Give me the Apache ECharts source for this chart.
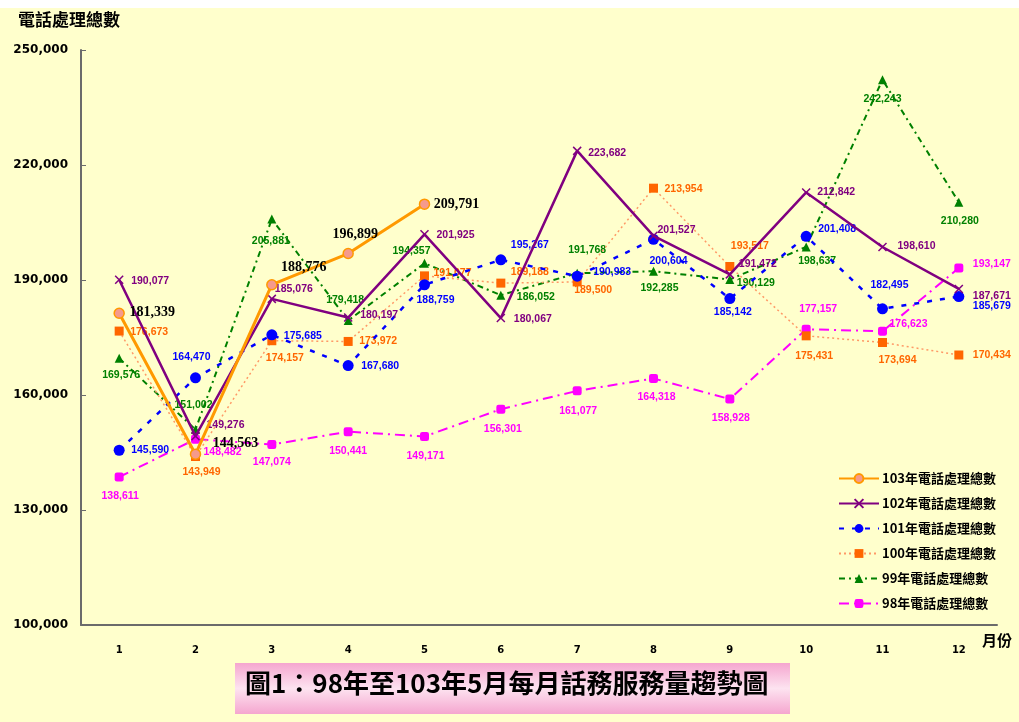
<!DOCTYPE html>
<html>
<head>
<meta charset="utf-8">
<script src="https://cdn.jsdelivr.net/npm/echarts@6/dist/echarts.min.js"></script>
<style>
html,body{margin:0;padding:0;background:#fff;}
#main{width:1019px;height:722px;}
</style>
</head>
<body>
<div id="main"></div>
<script>
// ---- data ----
const months = ['1','2','3','4','5','6','7','8','9','10','11','12'];
const seriesNames = ['103年電話處理總數','102年電話處理總數','101年電話處理總數','100年電話處理總數','99年電話處理總數','98年電話處理總數'];
const y103 = [181339,144563,188776,196899,209791];
const y102 = [190077,149276,185076,180197,201925,180067,223682,201527,191472,212842,198610,187671];
const y101 = [145590,164470,175685,167680,188759,195267,190983,200604,185142,201408,182495,185679];
const y100 = [176673,143949,174157,173972,191077,189188,189500,213954,193517,175431,173694,170434];
const y99  = [169576,151002,205881,179418,194357,186052,191768,192285,190129,198637,242243,210280];
const y98  = [138611,148482,147074,150441,149171,156301,161077,164318,158928,177157,176623,193147];
const yTicksMin = 100000, yTicksMax = 250000, yTickStep = 30000;
const chartTitle = '圖1：98年至103年5月每月話務服務量趨勢圖';
const yName = '電話處理總數';
const xName = '月份';

// ---- label placement (pixel offsets of label centre from point) ----
const off103 = [[33,-1],[40,-11],[32,-17],[7,-19],[32,0]];
const off102 = [[31,1],[30,-11],[22,-10],[31,-2],[31,1],[32,1],[30,2],[23,-6],[28,-10],[30,0],[34,-1],[33,7]];
const off101 = [[31,0],[-4,-21],[31,1],[32,1],[11,15],[29,-15],[35,-4],[15,22],[3,13],[31,-7],[7,-24],[33,10]];
const off100 = [[30,1],[6,16],[13,17],[30,0],[28,-3],[29,-11],[16,8],[30,1],[20,-20],[8,20],[15,18],[33,0]];
const off99  = [[2,17],[-2,-24],[-1,22],[-3,-20],[-13,-12],[35,2],[10,-23],[6,17],[26,4],[11,14],[0,19],[1,19]];
const off98  = [[1,19],[27,13],[0,18],[0,19],[1,20],[2,20],[1,20],[3,19],[1,19],[12,-20],[26,-7],[33,-4]];

const fmt = v => Number(v).toLocaleString('en-US');
const smallFont = "'Liberation Sans Narrow','Liberation Sans',sans-serif";

function mkData(vals, offs, color, big) {
  return vals.map((v, i) => ({
    value: v,
    label: {
      show: true,
      position: 'inside',
      offset: offs[i],
      align: 'center',
      verticalAlign: 'middle',
      color: color,
      fontFamily: big ? "'Liberation Serif',serif" : smallFont,
      fontWeight: 'bold',
      fontSize: big ? 14 : 10.5,
      textBorderWidth: 0,
      formatter: p => fmt(p.value)
    }
  }));
}

const chart = echarts.init(document.getElementById('main'), null, {renderer: 'canvas'});
const option = {
  animation: false,
  backgroundColor: '#FFFFCC',
  grid: {left: 81, right: 22, top: 50, bottom: 97, containLabel: false},
  legend: {
    orient: 'vertical',
    left: 833,
    top: 467,
    itemWidth: 40,
    itemHeight: 11,
    itemGap: 12,
    data: seriesNames,
    textStyle: {color: '#000', fontSize: 13, fontWeight: 'bold', fontFamily: "'Noto Sans CJK TC',sans-serif", padding: [0,0,0,-2]}
  },
  xAxis: {
    type: 'category',
    data: months,
    axisLine: {lineStyle: {color: '#6b6b6b', width: 2}},
    axisTick: {inside: true, length: 4, lineStyle: {color: '#6b6b6b', width: 1}},
    axisLabel: {color: '#000', fontWeight: 'bold', fontSize: 10, fontFamily: "'DejaVu Sans',sans-serif", margin: 20},
    splitLine: {show: false}
  },
  yAxis: {
    type: 'value',
    min: yTicksMin,
    max: yTicksMax,
    interval: yTickStep,
    axisLine: {show: true, lineStyle: {color: '#6b6b6b', width: 2}},
    axisTick: {show: true, inside: true, length: 5, lineStyle: {color: '#6b6b6b'}},
    axisLabel: {color: '#000', fontWeight: 'bold', fontSize: 12, fontFamily: "'DejaVu Sans',sans-serif", margin: 13, formatter: v => fmt(v)},
    splitLine: {show: false}
  },
  graphic: [
    {type: 'rect', left: 0, top: 0, shape: {width: 1019, height: 8}, style: {fill: '#ffffff'}},
    {type: 'text', left: 18, top: 11, style: {text: yName, fill: '#000', font: "bold 17px 'Noto Sans CJK TC',sans-serif"}},
    {type: 'text', left: 982, top: 633, style: {text: xName, fill: '#000', font: "bold 15px 'Noto Sans CJK TC',sans-serif"}},
    {type: 'rect', left: 235, top: 663, shape: {width: 555, height: 51},
     style: {fill: new echarts.graphic.LinearGradient(0,0,0,1,[
       {offset: 0, color: '#F5A6CF'}, {offset: 0.5, color: '#FDE3F0'}, {offset: 1, color: '#F5A6CF'}])}},
    {type: 'text', left: 245, top: 670, style: {text: chartTitle, fill: '#000', font: "bold 26px 'Noto Sans CJK TC',sans-serif"}}
  ],
  series: [
    {name: seriesNames[0], type: 'line', data: mkData(y103, off103, '#000', true), z: 8,
     symbol: 'circle', symbolSize: 10,
     lineStyle: {color: '#FF9900', width: 3},
     itemStyle: {color: '#F59A8C', borderColor: '#FF9900', borderWidth: 1.5}},
    {name: seriesNames[1], type: 'line', data: mkData(y102, off102, '#800080', false), z: 7,
     symbol: 'path://M0,0L10,10M10,0L0,10', symbolSize: 8,
     lineStyle: {color: '#800080', width: 2.5},
     itemStyle: {color: '#800080', borderColor: '#800080', borderWidth: 1.5}},
    {name: seriesNames[2], type: 'line', data: mkData(y101, off101, '#0000FF', false), z: 6,
     symbol: 'circle', symbolSize: 11,
     lineStyle: {color: '#0000FF', width: 2.5, type: [5, 8]},
     itemStyle: {color: '#0000FF'}},
    {name: seriesNames[3], type: 'line', data: mkData(y100, off100, '#FF6600', false), z: 5,
     symbol: 'rect', symbolSize: 9,
     lineStyle: {color: '#FF9966', width: 1.5, type: [2, 3]},
     itemStyle: {color: '#FF6600'}},
    {name: seriesNames[4], type: 'line', data: mkData(y99, off99, '#008000', false), z: 4,
     symbol: 'triangle', symbolSize: 9,
     lineStyle: {color: '#008000', width: 2, type: [6, 4, 2, 4]},
     itemStyle: {color: '#008000'}},
    {name: seriesNames[5], type: 'line', data: mkData(y98, off98, '#FF00FF', false), z: 3,
     symbol: 'roundRect', symbolSize: 9,
     lineStyle: {color: '#FF00FF', width: 2, type: [10, 5, 2, 5]},
     itemStyle: {color: '#FF00FF'}}
  ]
};
chart.setOption(option);
</script>
</body>
</html>
